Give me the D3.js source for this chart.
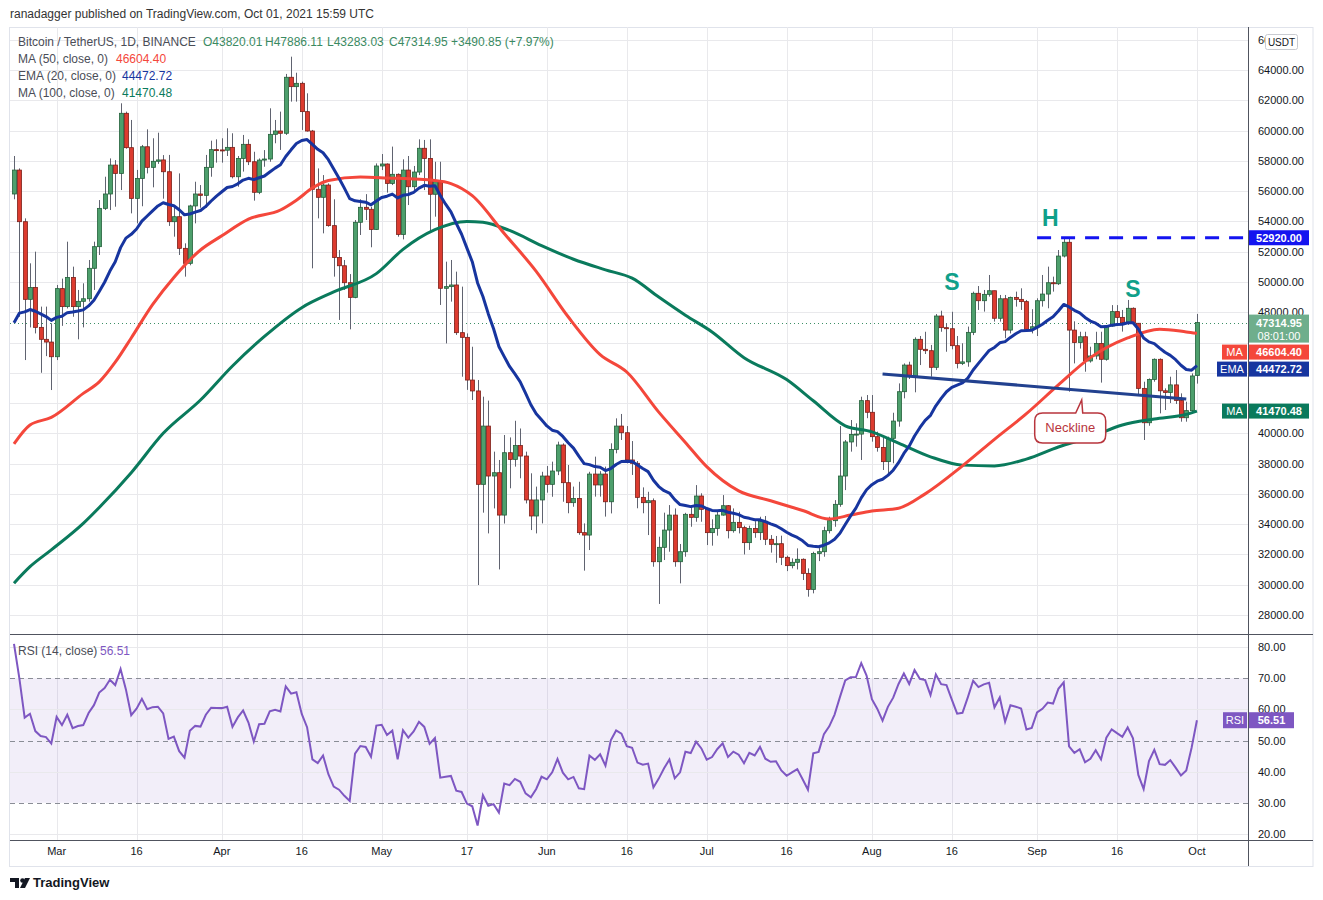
<!DOCTYPE html>
<html>
<head>
<meta charset="utf-8">
<script src="https://cdn.jsdelivr.net/npm/d3@7"></script>
<style>
  body { margin: 0; background: #fff; }
  svg { font-family: "Liberation Sans", Arial, sans-serif; }
</style>
</head>
<body>
<svg id="chart" width="1323" height="900"></svg>
<script>
// --- Data: daily candles [open, high, low, close], BTC/USDT from Feb 21 2021 ---
const firstDay = "2021-02-21";
const feb = [
  [55810,58320,55460,57390],[57390,57500,47700,53980],[53980,54200,44840,48850],[48850,51230,47000,49640],
  [49640,52000,46600,47000],[47000,48370,44000,46210],[46210,48370,45100,46030],[46030,47270,42860,45060]
];
const mar = [
  [45060,49800,44840,49560],[49560,50220,47100,48370],[48370,52660,48250,50300],[50300,51010,47700,48370],
  [48370,49470,46210,48720],[48720,49910,47000,48890],[48890,51450,48700,50900],[50900,52660,49470,52330],
  [52330,55410,51780,54860],[54860,56950,54750,55810],[55810,58160,54750,57720],[57720,58050,54970,57170],
  [57170,61800,56070,61140],[61140,61250,58800,58870],[58870,60700,54530,55520],[55520,57400,53870,56840],
  [56840,59050,55000,58930],[58930,60080,57170,57570],[57570,59490,56250,57970],[57970,59860,57800,58060],
  [58060,58380,55500,57280],[57280,58390,53700,53980],[53980,55000,52990,54310],[54310,57170,51780,52220],
  [52220,52550,50350,51230],[51230,55100,51100,55020],[55020,56620,53870,55810],[55810,56400,54900,55720],
  [55720,58390,54900,57570],[57570,59330,56950,58740],[58740,59420,57880,58720]
];
const apr = [
  [58720,59490,57880,58700],[58700,60150,58320,58890],[58890,59820,56840,56950],[56950,58320,56290,58160],
  [58160,59710,57290,59090],[59090,59420,57720,57940],[57940,58600,55370,55920],[55920,58160,55800,58050],
  [58050,58710,57610,58120],[58120,61470,57940,59750],[59750,60700,59160,59970],[59970,61250,58720,59820],
  [59820,63740,59710,63520],[63520,64880,61910,62900],[62900,63820,61910,63120],[63120,63230,60040,61250],
  [61250,62460,59930,59970],[59970,60040,50900,56120],[56120,57500,54200,55590],[55590,57060,53210,56400],
  [56400,56510,53650,53720],[53720,55460,50350,51620],[51620,52110,47490,51070],[51070,51450,49470,49950],
  [49950,50520,46870,48980],[48980,54090,48920,53940],[53940,55460,53100,54930],[54930,55800,54090,54800],
  [54800,54970,52290,53470],[53470,57830,53430,57660]
];
const may = [
  [57660,58450,57390,57790],[57790,57830,55900,56510],[56510,58940,56400,57110],[57110,57170,52990,53140],
  [53140,58100,52810,57390],[57390,58320,55080,56290],[56290,57660,55900,57260],[57260,59420,57060,58830],
  [58830,59380,56070,58160],[58160,59420,53320,55790],[55790,57940,54310,56620],[56620,57940,48480,49580],
  [49580,51340,45940,49690],[49690,51450,48700,49800],[49800,50680,46500,46650],[46650,49690,43740,46340],
  [46340,46600,42870,43520],[43520,45720,42200,42800],[42800,43520,29980,36630],[36630,42420,34760,40480],
  [40480,42160,33390,37180],[37180,38790,35040,37400],[37400,38240,31010,34600],[34600,39890,34040,38720],
  [38720,39730,36370,38280],[38280,40830,37800,39190],[39190,40320,37030,38500],[38500,38790,35370,35600],
  [35600,37360,33610,34540],[34540,36480,33390,35600],[35600,37460,34050,37180]
];
const jun = [
  [37180,37840,36080,36630],[36630,38130,35810,37510],[37510,39450,37240,39230],[39230,39340,35480,36740],
  [36740,37910,34720,35420],[35420,36480,35150,35700],[35700,36800,33300,33440],[33440,34050,30930,33280],
  [33280,37460,32290,37310],[37310,38460,35820,36590],[36590,37500,35820,37310],[37310,37800,34500,35480],
  [35480,39340,34710,38940],[38940,40990,38680,40480],[40480,41280,39560,40040],[40040,40480,38020,38240],
  [38240,39490,37250,38020],[38020,38170,35050,35770],[35770,36430,34720,35420],[35420,36140,33280,35550],
  [35550,35700,31190,31520],[31520,33170,28730,32470],[32470,34760,31630,33610],[33610,35260,32180,34600],
  [34600,35040,31190,31520],[31520,32690,30090,32180],[32180,34750,31850,34650],[34650,35260,33830,34450],
  [34450,36580,34160,35860],[35860,36040,34160,34980]
];
const jul = [
  [34980,35040,32620,33440],[33440,34320,32580,33720],[33720,34820,33240,34600],[34600,35920,34560,35220],
  [35220,35260,33060,33570],[33570,35040,33440,34120],[34120,34820,33390,33770],[33770,33900,32000,32780],
  [32780,33900,32300,33720],[33720,34200,33100,33440],[33440,34490,32950,34190],[34190,34540,32620,33000],
  [33000,33280,32120,32670],[32670,33220,31450,32710],[32710,33240,31300,31810],[31810,31920,30900,31260],
  [31260,31740,31080,31480],[31480,32400,31010,31680],[31680,31740,30310,30750],[30750,31080,29210,29690],
  [29690,32180,29430,32070],[32070,32510,31560,32180],[32180,33830,31850,33570],[33570,34490,33390,34230],
  [34230,35590,33830,35310],[35310,40480,35150,37180],[37180,39560,36250,39430],[39430,40880,38790,39930],
  [39930,40660,39120,39950],[39950,42420,38240,42160],[42160,42530,41000,41390]
];
const aug = [
  [41390,42530,39450,39780],[39780,40110,38790,39070],[39070,39890,37580,38130],[38130,39780,37360,39670],
  [39670,41360,38020,40810],[40810,43300,40440,42750],[42750,44620,42310,44510],[44510,44730,43590,43740],
  [43740,46340,42710,46210],[46210,46430,44510,45550],[45550,46710,45240,45460],[45460,45840,43740,44360],
  [44360,47880,44180,47750],[47750,48100,46710,46980],[46980,47270,45390,46910],[46910,48030,45550,45790],
  [45790,46430,44290,44620],[44620,45950,44510,44720],[44720,47050,44400,46670],[46670,49360,46490,49250],
  [49250,49730,48150,48760],[48760,49470,48040,49180],[49180,50460,49030,49420],[49420,49420,47380,47600],
  [47600,49140,47380,48890],[48890,49140,46280,46820],[46820,49030,46600,48980],[48980,49360,48370,48850],
  [48850,49580,48150,48700],[48700,48810,46710,46870],[46870,48200,46600,47040]
];
const sep = [
  [47040,48920,46430,48760],[48760,50460,48370,49200],[49200,51010,48260,49950],[49950,50350,49360,49880],
  [49880,52110,49800,51710],[51710,52880,51620,52620],[52620,52920,42750,46820],[46820,47400,44620,46000],
  [46000,46710,45600,46380],[46380,46710,44070,44780],[44780,45720,44670,45110],[45110,46710,44890,45940],
  [45940,46710,43350,44890],[44890,47160,44800,47090],[47090,48470,47040,48040],[48040,48470,47260,47660],
  [47660,48150,46720,47310],[47310,48810,47160,48260],[48260,48320,47160,47270],[47270,47270,42530,42970],
  [42970,43410,39560,40700],[40700,43630,40500,43560],[43560,44950,43410,44890],[44890,44950,41320,42810],
  [42810,42970,41540,42700],[42700,43740,42000,43200],[43200,44180,41940,42170],[42170,42640,40770,41030],
  [41030,42090,40770,41500],[41500,43960,41320,43790]
];
const oct = [[43820.01,47886.11,43283.03,47314.95]];

// moving averages
const ma50Points = [
  ["2021-02-21",39300],["2021-02-24",40550],["2021-02-28",41050],["2021-03-06",42640],["2021-03-09",43400],
  ["2021-03-12",44700],["2021-03-15",46300],["2021-03-19",48500],["2021-03-23",50300],["2021-03-28",52110],
  ["2021-04-01",53050],["2021-04-06",54150],["2021-04-12",54750],["2021-04-15",55400],["2021-04-18",56200],
  ["2021-04-21",56700],["2021-04-27",56930],["2021-05-02",56870],["2021-05-11",56700],["2021-05-14",56500],
  ["2021-05-18",55700],["2021-05-24",53200],["2021-05-30",50700],["2021-06-05",47700],["2021-06-11",45200],
  ["2021-06-16",44050],["2021-06-22",41400],["2021-06-27",39400],["2021-07-01",37800],["2021-07-07",36200],
  ["2021-07-13",35550],["2021-07-19",34900],["2021-07-24",34340],["2021-07-28",34600],["2021-08-01",34870],
  ["2021-08-06",35050],["2021-08-11",36000],["2021-08-18",37850],["2021-08-24",39600],["2021-08-30",41300],
  ["2021-09-05",43200],["2021-09-11",45000],["2021-09-18",46300],["2021-09-24",46880],["2021-09-29",46700],
  ["2021-10-01",46604.40]
];
const ma100Points = [
  ["2021-02-21",30100],["2021-02-24",31190],["2021-02-28",32300],["2021-03-06",34050],["2021-03-09",35100],
  ["2021-03-15",37400],["2021-03-21",40000],["2021-03-28",42200],["2021-04-03",44450],["2021-04-09",46400],
  ["2021-04-16",48300],["2021-04-22",49340],["2021-04-30",50550],["2021-05-05",52150],["2021-05-11",53450],
  ["2021-05-17",54000],["2021-05-20",53950],["2021-05-25",53400],["2021-05-31",52400],["2021-06-06",51500],
  ["2021-06-12",50800],["2021-06-17",50250],["2021-06-22",49000],["2021-06-27",47800],["2021-07-02",46700],
  ["2021-07-08",45000],["2021-07-16",43550],["2021-07-21",42150],["2021-07-27",40500],["2021-08-01",40100],
  ["2021-08-06",39360],["2021-08-12",38450],["2021-08-18",37900],["2021-08-24",37850],["2021-08-30",38300],
  ["2021-09-05",39100],["2021-09-11",39750],["2021-09-17",40550],["2021-09-23",40950],["2021-09-29",41250],
  ["2021-10-01",41470.48]
];
// starting state of the EMA and RSI just before the first candle
const emaSeed = 46240;
const rsiSeedGain = 1330, rsiSeedLoss = 340, rsiPrevClose = 55810;

// drawing annotations
const neckDates = ["2021-08-03", "2021-09-29"];
const neckPrices = [43920, 42270];
const headLevel = 52920, headFrom = "2021-09-01";
const patternLabels = [["H", "2021-09-03T12:00Z", 53700], ["S", "2021-08-16", 49470], ["S", "2021-09-19", 49000]];
const neckTip = ["2021-09-09", 42200];

const timeTicks = ["2021-03-01","2021-03-16","2021-04-01","2021-04-16","2021-05-01","2021-05-17","2021-06-01",
  "2021-06-16","2021-07-01","2021-07-16","2021-08-01","2021-08-16","2021-09-01","2021-09-16","2021-10-01"];
const timeTickLabels = ["Mar","16","Apr","16","May","17","Jun","16","Jul","16","Aug","16","Sep","16","Oct"];
const rsiTicks = [20, 30, 40, 50, 60, 70, 80];

// --- Layout ---
const plotL = 10, plotR = 1248, priceTop = 27, priceBot = 634, rsiBot = 840, axisBot = 866;
const upFill = "#4d9f6c", upLine = "#24603a", downFill = "#dc3b2f", downLine = "#7c1f18";
const cMA50 = "#f4473b", cEMA = "#17359f", cMA100 = "#0a7a5c", cRSI = "#7e57c2";
const textCol = "#131722", gridCol = "#e9e9ec";

const parse = d3.isoParse;
const svg = d3.select("#chart");
const x = d3.scaleUtc()
  .domain([new Date(Date.UTC(2021, 1, 20, 6)), new Date(Date.UTC(2021, 9, 10, 14))])
  .range([plotL, plotR]);
const y = d3.scaleLinear().domain([28000, 64000]).range([615, 70]);
const yr = d3.scaleLinear().domain([20, 80]).range([834, 647]);

const candles = [feb, mar, apr, may, jun, jul, aug, sep, oct].flat().map((d, i) => ({
  date: d3.utcDay.offset(parse(firstDay), i), o: d[0], h: d[1], l: d[2], c: d[3]
}));

// EMA 20 and RSI 14 (Wilder) from the closes
let ema = emaSeed;
const emaData = candles.map(d => { ema = ema + (d.c - ema) * 2 / 21; return { date: d.date, v: ema }; });
let ag = rsiSeedGain, al = rsiSeedLoss, prev = rsiPrevClose;
const rsiData = candles.map(d => {
  const ch = d.c - prev; prev = d.c;
  ag = (ag * 13 + Math.max(ch, 0)) / 14;
  al = (al * 13 + Math.max(-ch, 0)) / 14;
  return { date: d.date, v: 100 - 100 / (1 + ag / al) };
});
const toPts = arr => arr.map(p => ({ date: parse(p[0]), v: p[1] }));
const last = candles[candles.length - 1];
const lastMA50 = ma50Points[ma50Points.length - 1][1];
const lastEMA = emaData[emaData.length - 1].v;
const lastMA100 = ma100Points[ma100Points.length - 1][1];
const lastRSI = rsiData[rsiData.length - 1].v;

// --- Frame and clip ---
const defs = svg.append("defs");
defs.append("clipPath").attr("id", "clipPrice").append("rect")
  .attr("x", plotL).attr("y", priceTop).attr("width", plotR - plotL).attr("height", priceBot - priceTop);
const axisClip = defs.append("clipPath").attr("id", "clipAxis");
axisClip.append("rect").attr("x", plotR).attr("y", priceTop).attr("width", 1265 - plotR).attr("height", 23);
axisClip.append("rect").attr("x", plotR).attr("y", priceTop + 23).attr("width", 80).attr("height", 850);

svg.append("text").attr("x", 10).attr("y", 18).attr("font-size", 12).attr("fill", "#333")
  .text("ranadagger published on TradingView.com, Oct 01, 2021 15:59 UTC");

svg.append("rect").attr("x", 9.5).attr("y", priceTop + 0.5).attr("width", 1313 - 9.5).attr("height", axisBot - priceTop)
  .attr("fill", "none").attr("stroke", "#e0e3eb");

// grid
const grid = svg.append("g").attr("stroke", gridCol).attr("shape-rendering", "crispEdges");
grid.selectAll("line.v").data(timeTicks).join("line")
  .attr("x1", d => Math.round(x(parse(d))) + 0.5).attr("x2", d => Math.round(x(parse(d))) + 0.5)
  .attr("y1", priceTop).attr("y2", rsiBot);
const priceTicks = d3.range(28000, 66001, 2000);
grid.selectAll("line.h").data(priceTicks).join("line")
  .attr("x1", plotL).attr("x2", plotR)
  .attr("y1", d => Math.round(y(d)) + 0.5).attr("y2", d => Math.round(y(d)) + 0.5);

// RSI band & levels
svg.append("rect").attr("x", plotL).attr("width", plotR - plotL)
  .attr("y", yr(70)).attr("height", yr(30) - yr(70)).attr("fill", "rgba(126,87,194,0.1)");
svg.append("g").attr("stroke", gridCol).attr("shape-rendering", "crispEdges")
  .selectAll("line").data([20, 40, 60, 80]).join("line")
  .attr("x1", plotL).attr("x2", plotR)
  .attr("y1", d => Math.round(yr(d)) + 0.5).attr("y2", d => Math.round(yr(d)) + 0.5);
svg.append("g").attr("stroke", "#8a8d96").attr("stroke-dasharray", "5,4").attr("shape-rendering", "crispEdges")
  .selectAll("line").data([30, 50, 70]).join("line")
  .attr("x1", plotL).attr("x2", plotR)
  .attr("y1", d => Math.round(yr(d)) + 0.5).attr("y2", d => Math.round(yr(d)) + 0.5);

// --- Price pane ---
const pane = svg.append("g").attr("clip-path", "url(#clipPrice)");

pane.append("line").attr("x1", plotL).attr("x2", plotR)
  .attr("y1", Math.round(y(last.c)) + 0.5).attr("y2", Math.round(y(last.c)) + 0.5)
  .attr("stroke", "#3d8f66").attr("stroke-dasharray", "1,3");

pane.append("g").selectAll("line").data(candles).join("line")
  .attr("x1", d => Math.round(x(d.date)) + 0.5).attr("x2", d => Math.round(x(d.date)) + 0.5)
  .attr("y1", d => y(d.h)).attr("y2", d => y(d.l))
  .attr("stroke", "#606370").attr("stroke-width", 1);
pane.append("g").selectAll("rect").data(candles).join("rect")
  .attr("x", d => Math.round(x(d.date)) - 1.5).attr("width", 4)
  .attr("y", d => y(Math.max(d.o, d.c)))
  .attr("height", d => Math.max(1, Math.abs(y(d.o) - y(d.c))))
  .attr("fill", d => d.c >= d.o ? upFill : downFill)
  .attr("stroke", d => d.c >= d.o ? upLine : downLine).attr("stroke-width", 0.8);

const lineGen = d3.line().x(d => x(d.date)).y(d => y(d.v)).curve(d3.curveMonotoneX);
pane.append("path").datum(toPts(ma100Points)).attr("d", lineGen)
  .attr("fill", "none").attr("stroke", cMA100).attr("stroke-width", 3);
pane.append("path").datum(toPts(ma50Points)).attr("d", lineGen)
  .attr("fill", "none").attr("stroke", cMA50).attr("stroke-width", 3);
pane.append("path").datum(emaData).attr("d", d3.line().x(d => x(d.date)).y(d => y(d.v)))
  .attr("fill", "none").attr("stroke", cEMA).attr("stroke-width", 3).attr("stroke-linejoin", "round");

// neckline and head level
pane.append("line")
  .attr("x1", x(parse(neckDates[0]))).attr("y1", y(neckPrices[0]))
  .attr("x2", x(parse(neckDates[1]))).attr("y2", y(neckPrices[1]))
  .attr("stroke", "#22418f").attr("stroke-width", 3);
pane.append("line").attr("x1", x(parse(headFrom))).attr("x2", plotR)
  .attr("y1", y(headLevel)).attr("y2", y(headLevel))
  .attr("stroke", "#1414f0").attr("stroke-width", 3).attr("stroke-dasharray", "14,10");

pane.selectAll("text.pat").data(patternLabels).join("text")
  .attr("x", d => x(parse(d[1]))).attr("y", d => y(d[2]))
  .attr("text-anchor", "middle").attr("font-size", 23).attr("font-weight", "bold")
  .attr("fill", "#10a08a").text(d => d[0]);

// neckline callout
{
  const tx = x(parse(neckTip[0])) + 2, ty = y(neckTip[1]);
  const L = tx - 47, R = tx + 24, T = ty + 13, B = ty + 43, r = 8;
  const p = d3.path();
  p.moveTo(L + r, T); p.lineTo(tx - 6, T); p.lineTo(tx, ty); p.lineTo(tx + 1, T);
  p.lineTo(R - r, T); p.quadraticCurveTo(R, T, R, T + r); p.lineTo(R, B - r);
  p.quadraticCurveTo(R, B, R - r, B); p.lineTo(L + r, B); p.quadraticCurveTo(L, B, L, B - r);
  p.lineTo(L, T + r); p.quadraticCurveTo(L, T, L + r, T); p.closePath();
  pane.append("path").attr("d", p.toString()).attr("fill", "#fff")
    .attr("stroke", "#b8353d").attr("stroke-width", 1.5);
  pane.append("text").attr("x", (L + R) / 2).attr("y", T + 19).attr("text-anchor", "middle")
    .attr("font-size", 13).attr("fill", "#b8353d").text("Neckline");
}

// --- RSI pane ---
svg.append("path").datum(rsiData)
  .attr("d", d3.line().x(d => x(d.date)).y(d => yr(d.v)))
  .attr("fill", "none").attr("stroke", cRSI).attr("stroke-width", 2);

// --- Axes lines ---
const axisCol = "#50535e";
svg.append("line").attr("x1", plotR + 0.5).attr("x2", plotR + 0.5).attr("y1", priceTop).attr("y2", axisBot)
  .attr("stroke", axisCol);
svg.append("line").attr("x1", plotL).attr("x2", 1313).attr("y1", priceBot + 0.5).attr("y2", priceBot + 0.5)
  .attr("stroke", axisCol);
svg.append("line").attr("x1", plotL).attr("x2", 1313).attr("y1", rsiBot + 0.5).attr("y2", rsiBot + 0.5)
  .attr("stroke", axisCol);

// --- Axis tags: work out where they sit first, so covered axis labels are skipped ---
const priceBoxTop = y(last.c) - 8, priceBoxH = 28;
const stacked = [];
{
  let bottom = priceBoxTop + priceBoxH;
  [[lastMA50, cMA50, "MA", 26], [lastEMA, cEMA, "EMA", 31], [lastMA100, cMA100, "MA", 26]].forEach(t => {
    const top = Math.max(y(t[0]) - 7.5, bottom + 2);
    stacked.push({ top, value: t[0], color: t[1], name: t[2], w: t[3] });
    bottom = top + 15;
  });
}
const covered = [[priceBoxTop, priceBoxTop + priceBoxH], [y(headLevel) - 7.5, y(headLevel) + 7.5]]
  .concat(stacked.map(s => [s.top, s.top + 15]));
const isCovered = cy => covered.some(c => cy > c[0] - 1 && cy < c[1] + 1);

// right axis labels
const axisG = svg.append("g").attr("font-size", 11).attr("fill", textCol).attr("clip-path", "url(#clipAxis)");
axisG.selectAll("text.p").data(priceTicks.filter(d => y(d) > priceTop + 8 && !isCovered(y(d)))).join("text")
  .attr("x", 1258).attr("y", d => y(d) + 4).text(d => d.toFixed(2));
axisG.selectAll("text.r").data(rsiTicks.filter(d => Math.abs(yr(d) - yr(lastRSI)) > 8)).join("text")
  .attr("x", 1258).attr("y", d => yr(d) + 4).text(d => d.toFixed(2));
svg.append("g").attr("font-size", 11).attr("fill", textCol)
  .selectAll("text").data(timeTicks).join("text")
  .attr("x", d => x(parse(d))).attr("y", 855).attr("text-anchor", "middle")
  .text((d, i) => timeTickLabels[i]);

svg.append("rect").attr("x", 1265.5).attr("y", 34.5).attr("width", 32).attr("height", 15).attr("rx", 2)
  .attr("fill", "#fff").attr("stroke", "#c9cbd1");
svg.append("text").attr("x", 1281.5).attr("y", 45.5).attr("text-anchor", "middle")
  .attr("font-size", 10).attr("fill", textCol).text("USDT");

function tag(top, h, color, value, name, nameW) {
  svg.append("rect").attr("x", plotR + 1).attr("y", top).attr("width", 60).attr("height", h).attr("fill", color);
  svg.append("text").attr("x", 1279).attr("y", top + 11.5).attr("text-anchor", "middle")
    .attr("font-size", 11).attr("font-weight", "bold").attr("fill", "#fff").text(value);
  if (name) {
    svg.append("rect").attr("x", plotR - nameW).attr("y", top).attr("width", nameW - 1).attr("height", h)
      .attr("fill", color);
    svg.append("text").attr("x", plotR - nameW / 2 - 0.5).attr("y", top + 11.5).attr("text-anchor", "middle")
      .attr("font-size", 11).attr("fill", "#fff").text(name);
  }
}
tag(y(headLevel) - 7.5, 15, "#1414f0", headLevel.toFixed(2));
svg.append("rect").attr("x", plotR + 1).attr("y", priceBoxTop).attr("width", 60).attr("height", priceBoxH)
  .attr("fill", "#6fae8c");
svg.append("text").attr("x", 1279).attr("y", priceBoxTop + 12).attr("text-anchor", "middle")
  .attr("font-size", 11).attr("font-weight", "bold").attr("fill", "#fff").text(last.c.toFixed(2));
svg.append("text").attr("x", 1279).attr("y", priceBoxTop + 25).attr("text-anchor", "middle")
  .attr("font-size", 11).attr("fill", "#fff").text("08:01:00");
stacked.forEach(s => tag(s.top, 15, s.color, s.value.toFixed(2), s.name, s.w));
{
  const top = yr(lastRSI) - 8;
  svg.append("rect").attr("x", plotR - 25).attr("y", top).attr("width", 24).attr("height", 16).attr("fill", cRSI);
  svg.append("text").attr("x", plotR - 13).attr("y", top + 12).attr("text-anchor", "middle")
    .attr("font-size", 11).attr("fill", "#fff").text("RSI");
  svg.append("rect").attr("x", plotR + 1).attr("y", top).attr("width", 45).attr("height", 16).attr("fill", cRSI);
  svg.append("text").attr("x", plotR + 23.5).attr("y", top + 12).attr("text-anchor", "middle")
    .attr("font-size", 11).attr("font-weight", "bold").attr("fill", "#fff").text(lastRSI.toFixed(2));
}

// --- Legends ---
const lg = svg.append("g").attr("font-size", 12);
const green = "#3b8a62";
const row1 = [["Bitcoin / TetherUS, 1D, BINANCE", 18, "#4a4d57"], ["O43820.01", 203, green], ["H47886.11", 265, green],
  ["L43283.03", 327, green], ["C47314.95", 389, green], ["+3490.85 (+7.97%)", 451, green]];
lg.selectAll("text.r1").data(row1).join("text").attr("x", d => d[1]).attr("y", 46)
  .attr("fill", d => d[2]).text(d => d[0]);
const rows = [["MA (50, close, 0)", 116, lastMA50, cMA50],
  ["EMA (20, close, 0)", 122, lastEMA, cEMA],
  ["MA (100, close, 0)", 122, lastMA100, cMA100]];
rows.forEach((r, i) => {
  lg.append("text").attr("x", 18).attr("y", 63 + i * 17).attr("fill", "#4a4d57").text(r[0]);
  lg.append("text").attr("x", r[1]).attr("y", 63 + i * 17).attr("fill", r[3]).text(r[2].toFixed(2));
});
lg.append("text").attr("x", 18).attr("y", 655).attr("fill", "#4a4d57").text("RSI (14, close)");
lg.append("text").attr("x", 100).attr("y", 655).attr("fill", cRSI).text(lastRSI.toFixed(2));

// --- Footer logo ---
const logo = svg.append("g").attr("fill", textCol);
logo.append("path").attr("d", "M10 878h9v10h-4v-6h-5z");
logo.append("circle").attr("cx", 22.5).attr("cy", 880.5).attr("r", 2.3);
logo.append("path").attr("d", "M25 878h5l-5 10h-5z");
svg.append("text").attr("x", 33).attr("y", 887).attr("font-size", 13).attr("font-weight", "bold")
  .attr("fill", textCol).text("TradingView");
</script>
</body>
</html>
